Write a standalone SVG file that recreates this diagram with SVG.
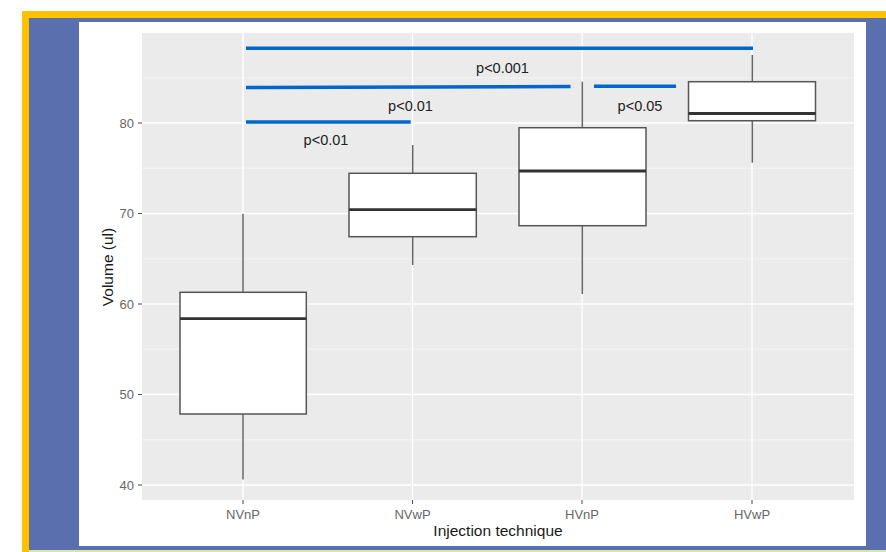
<svg xmlns="http://www.w3.org/2000/svg" width="886" height="552" viewBox="0 0 886 552">
<style>
.grid-major{stroke:#FFFFFF;stroke-width:1.4;fill:none}
.grid-minor{stroke:#F7F7F7;stroke-width:0.8;fill:none}
.tick{stroke:#555555;stroke-width:1.1}
.ticklab{font-family:"Liberation Sans",Arial,sans-serif;font-size:13px;fill:#666666}
.axtitle{font-family:"Liberation Sans",Arial,sans-serif;font-size:15.5px;fill:#1A1A1A}
.box{fill:#FFFFFF;stroke:#555555;stroke-width:1.5}
.whisker{stroke:#666666;stroke-width:1.5}
.median{stroke:#333333;stroke-width:2.8}
.sig{stroke:#0066CC;stroke-width:3.6;stroke-linecap:butt;fill:none}
.plab{font-family:"Liberation Sans",Arial,sans-serif;font-size:14.5px;fill:#222222;text-anchor:middle}
</style>
<rect x="0" y="0" width="886" height="552" fill="#FFFFFF"/>
<rect x="22" y="11" width="864" height="541" fill="#FFC000"/>
<rect x="29" y="18" width="857" height="532" fill="#5A6FAD"/>
<rect x="29" y="550" width="857" height="2" fill="#DCE5A3"/>
<rect x="79" y="22" width="787" height="524" fill="#FFFFFF"/>
<g id="panel">
<rect x="142" y="33" width="712" height="467" fill="#EBEBEB"/>
<line class="grid-minor" x1="142" y1="77.75" x2="854" y2="77.75"/>
<line class="grid-minor" x1="142" y1="168.25" x2="854" y2="168.25"/>
<line class="grid-minor" x1="142" y1="258.75" x2="854" y2="258.75"/>
<line class="grid-minor" x1="142" y1="349.25" x2="854" y2="349.25"/>
<line class="grid-minor" x1="142" y1="439.75" x2="854" y2="439.75"/>
<line class="grid-major" x1="142" y1="123" x2="854" y2="123"/>
<line class="grid-major" x1="142" y1="213.5" x2="854" y2="213.5"/>
<line class="grid-major" x1="142" y1="304" x2="854" y2="304"/>
<line class="grid-major" x1="142" y1="394.5" x2="854" y2="394.5"/>
<line class="grid-major" x1="142" y1="485" x2="854" y2="485"/>
<line class="grid-major" x1="243" y1="33" x2="243" y2="500"/>
<line class="grid-major" x1="412.5" y1="33" x2="412.5" y2="500"/>
<line class="grid-major" x1="582" y1="33" x2="582" y2="500"/>
<line class="grid-major" x1="752" y1="33" x2="752" y2="500"/>
</g>
<g id="y-axis">
<line class="tick" x1="138" y1="123" x2="142" y2="123"/>
<line class="tick" x1="138" y1="213.5" x2="142" y2="213.5"/>
<line class="tick" x1="138" y1="304" x2="142" y2="304"/>
<line class="tick" x1="138" y1="394.5" x2="142" y2="394.5"/>
<line class="tick" x1="138" y1="485" x2="142" y2="485"/>
<text class="ticklab" x="134" y="127.5" text-anchor="end">80</text>
<text class="ticklab" x="134" y="218" text-anchor="end">70</text>
<text class="ticklab" x="134" y="308.5" text-anchor="end">60</text>
<text class="ticklab" x="134" y="399" text-anchor="end">50</text>
<text class="ticklab" x="134" y="489.5" text-anchor="end">40</text>
<text class="axtitle" transform="translate(113,267) rotate(-90)" text-anchor="middle">Volume (ul)</text>
</g>
<g id="x-axis">
<line class="tick" x1="243" y1="500" x2="243" y2="504"/>
<line class="tick" x1="412.5" y1="500" x2="412.5" y2="504"/>
<line class="tick" x1="582" y1="500" x2="582" y2="504"/>
<line class="tick" x1="752" y1="500" x2="752" y2="504"/>
<text class="ticklab" x="243" y="518.5" text-anchor="middle">NVnP</text>
<text class="ticklab" x="412.5" y="518.5" text-anchor="middle">NVwP</text>
<text class="ticklab" x="582" y="518.5" text-anchor="middle">HVnP</text>
<text class="ticklab" x="752" y="518.5" text-anchor="middle">HVwP</text>
<text class="axtitle" x="498" y="536" text-anchor="middle" font-size="16.5">Injection technique</text>
</g>
<g id="NVnP">
<line class="whisker" x1="243" y1="213.7" x2="243" y2="292.3"/>
<line class="whisker" x1="243" y1="414" x2="243" y2="479.5"/>
<rect class="box" x="180" y="292.3" width="126.3" height="121.7"/>
<line class="median" x1="180" y1="318.7" x2="306.3" y2="318.7"/>
</g>
<g id="NVwP">
<line class="whisker" x1="412.7" y1="145" x2="412.7" y2="173.3"/>
<line class="whisker" x1="412.7" y1="236.7" x2="412.7" y2="265"/>
<rect class="box" x="349" y="173.3" width="127.3" height="63.4"/>
<line class="median" x1="349" y1="209.7" x2="476.3" y2="209.7"/>
</g>
<g id="HVnP">
<line class="whisker" x1="582.3" y1="81.7" x2="582.3" y2="127.7"/>
<line class="whisker" x1="582.3" y1="225.7" x2="582.3" y2="294"/>
<rect class="box" x="519" y="127.7" width="127" height="98"/>
<line class="median" x1="519" y1="171" x2="646" y2="171"/>
</g>
<g id="HVwP">
<line class="whisker" x1="752.3" y1="55" x2="752.3" y2="81.7"/>
<line class="whisker" x1="752.3" y1="120.7" x2="752.3" y2="162.7"/>
<rect class="box" x="688.5" y="81.7" width="127" height="39"/>
<line class="median" x1="688.5" y1="113.5" x2="815.5" y2="113.5"/>
</g>
<g id="connectors">
<line class="sig" x1="246" y1="48.3" x2="753" y2="48.3"/>
<line class="sig" x1="246" y1="87.5" x2="570.5" y2="86.5"/>
<line class="sig" x1="246" y1="122" x2="410.7" y2="122"/>
<line class="sig" x1="594" y1="86.3" x2="676" y2="86.3"/>
</g>
<g id="labels">
<text class="plab" x="502.5" y="72.5">p&lt;0.001</text>
<text class="plab" x="410.5" y="110.5">p&lt;0.01</text>
<text class="plab" x="326" y="145">p&lt;0.01</text>
<text class="plab" x="640" y="110.5">p&lt;0.05</text>
</g>
</svg>
